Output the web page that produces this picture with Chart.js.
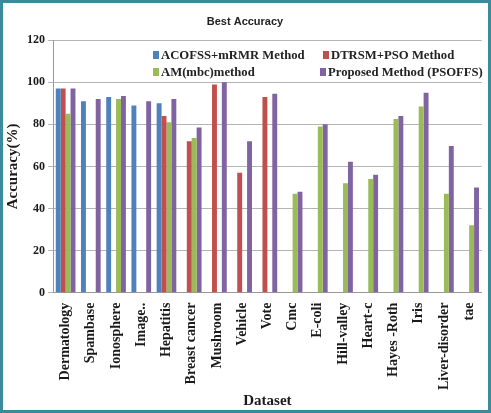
<!DOCTYPE html>
<html>
<head>
<meta charset="utf-8">
<script src="https://cdn.jsdelivr.net/npm/chart.js@4.4.1/dist/chart.umd.min.js"></script>
<style>
  body { margin: 0; background: #fff; }
  #wrap { position: relative; width: 491px; height: 413px; box-sizing: border-box; border: 3px solid #3b8b9c; background: #fff; }
  #legend { position: absolute; left: 150px; top: 45px; width: 320px; font-family: "Liberation Serif", "Times New Roman", serif; font-weight: bold; font-size: 12.7px; color: #222; }
  #legend div { position: absolute; white-space: nowrap; }
  #legend span { display: inline-block; width: 6px; height: 8px; margin-right: 2px; }
</style>
</head>
<body>
<div id="wrap">
  <canvas id="chart" width="485" height="407"></canvas>
  <div id="legend"></div>
</div>
<script>
// Datos
const datasets = ['Dermatology', 'Spambase', 'Ionosphere', 'Image..', 'Hepatitis', 'Breast cancer', 'Mushroom',
  'Vehicle', 'Vote', 'Cmc', 'E-coli', 'Hill-valley', 'Heart-c', 'Hayes -Roth', 'Iris', 'Liver-disorder', 'tae'];
const acofss = [97, 91, 93, 89, 90, 0, 0, 0, 0, 0, 0, 0, 0, 0, 0, 0, 0];
const dtrsm = [97, 0, 0, 0, 84, 72, 99, 57, 93, 0, 0, 0, 0, 0, 0, 0, 0];
const ammbc = [85, 0, 92, 0, 81, 73.5, 0, 0, 0, 47, 79, 52, 54, 82.5, 88.5, 47, 32];
const psoffs = [97, 92, 93.5, 91, 92, 78.5, 100, 72, 94.6, 48, 80, 62.2, 56, 84, 95, 69.7, 50];
const yTicks = [0, 20, 40, 60, 80, 100, 120];

const series = [
  { label: 'ACOFSS+mRMR  Method', data: acofss, color: '#4f81bd' },
  { label: 'DTRSM+PSO  Method', data: dtrsm, color: '#c0504d' },
  { label: 'AM(mbc)method', data: ammbc, color: '#9bbb59' },
  { label: 'Proposed Method (PSOFFS)', data: psoffs, color: '#8064a2' }
];

// Leyenda en HTML (dos columnas, dentro del área del gráfico)
const legendPos = [[0, 0], [170, 0], [0, 17], [167, 17]];
const legend = document.getElementById('legend');
series.forEach((s, i) => {
  const d = document.createElement('div');
  d.style.left = legendPos[i][0] + 'px';
  d.style.top = legendPos[i][1] + 'px';
  d.innerHTML = '<span style="background:' + s.color + '"></span>' + s.label;
  legend.appendChild(d);
});

const serif = "'Liberation Serif', 'Times New Roman', serif";
const ctx = document.getElementById('chart').getContext('2d');
const chart = new Chart(ctx, {
  type: 'bar',
  data: {
    labels: datasets,
    datasets: series.map(s => ({
      label: s.label,
      data: s.data,
      backgroundColor: s.color,
      barPercentage: 1.0,
      categoryPercentage: 0.78
    }))
  },
  options: {
    responsive: false,
    animation: false,
    layout: { padding: { left: 1, right: 2, top: 0, bottom: 0 } },
    plugins: {
      legend: { display: false },
      tooltip: { enabled: false },
      title: {
        display: true,
        text: 'Best Accuracy',
        color: '#222',
        font: { family: "'Liberation Sans', Arial, sans-serif", size: 11, weight: 'bold' },
        padding: { top: 12, bottom: 12 }
      }
    },
    scales: {
      x: {
        grid: { display: false },
        border: { color: '#999' },
        ticks: {
          color: '#1a1a1a',
          minRotation: 90,
          maxRotation: 90,
          autoSkip: false,
          padding: 2,
          font: { family: serif, size: 14, weight: 'bold' }
        },
        title: {
          display: true,
          text: 'Dataset',
          color: '#1a1a1a',
          padding: { top: 0, bottom: 0 },
          font: { family: serif, size: 15, weight: 'bold' }
        }
      },
      y: {
        min: 0,
        max: 120,
        afterBuildTicks: axis => { axis.ticks = yTicks.map(v => ({ value: v })); },
        grid: { color: '#b5b5b5', tickLength: 5 },
        border: { color: '#999' },
        ticks: {
          color: '#1a1a1a',
          padding: 3,
          font: { family: serif, size: 12, weight: 'bold' }
        },
        title: {
          display: true,
          text: 'Accuracy(%)',
          color: '#1a1a1a',
          padding: { top: 0, bottom: 2 },
          font: { family: serif, size: 15, weight: 'bold' }
        }
      }
    }
  }
});
</script>
</body>
</html>
